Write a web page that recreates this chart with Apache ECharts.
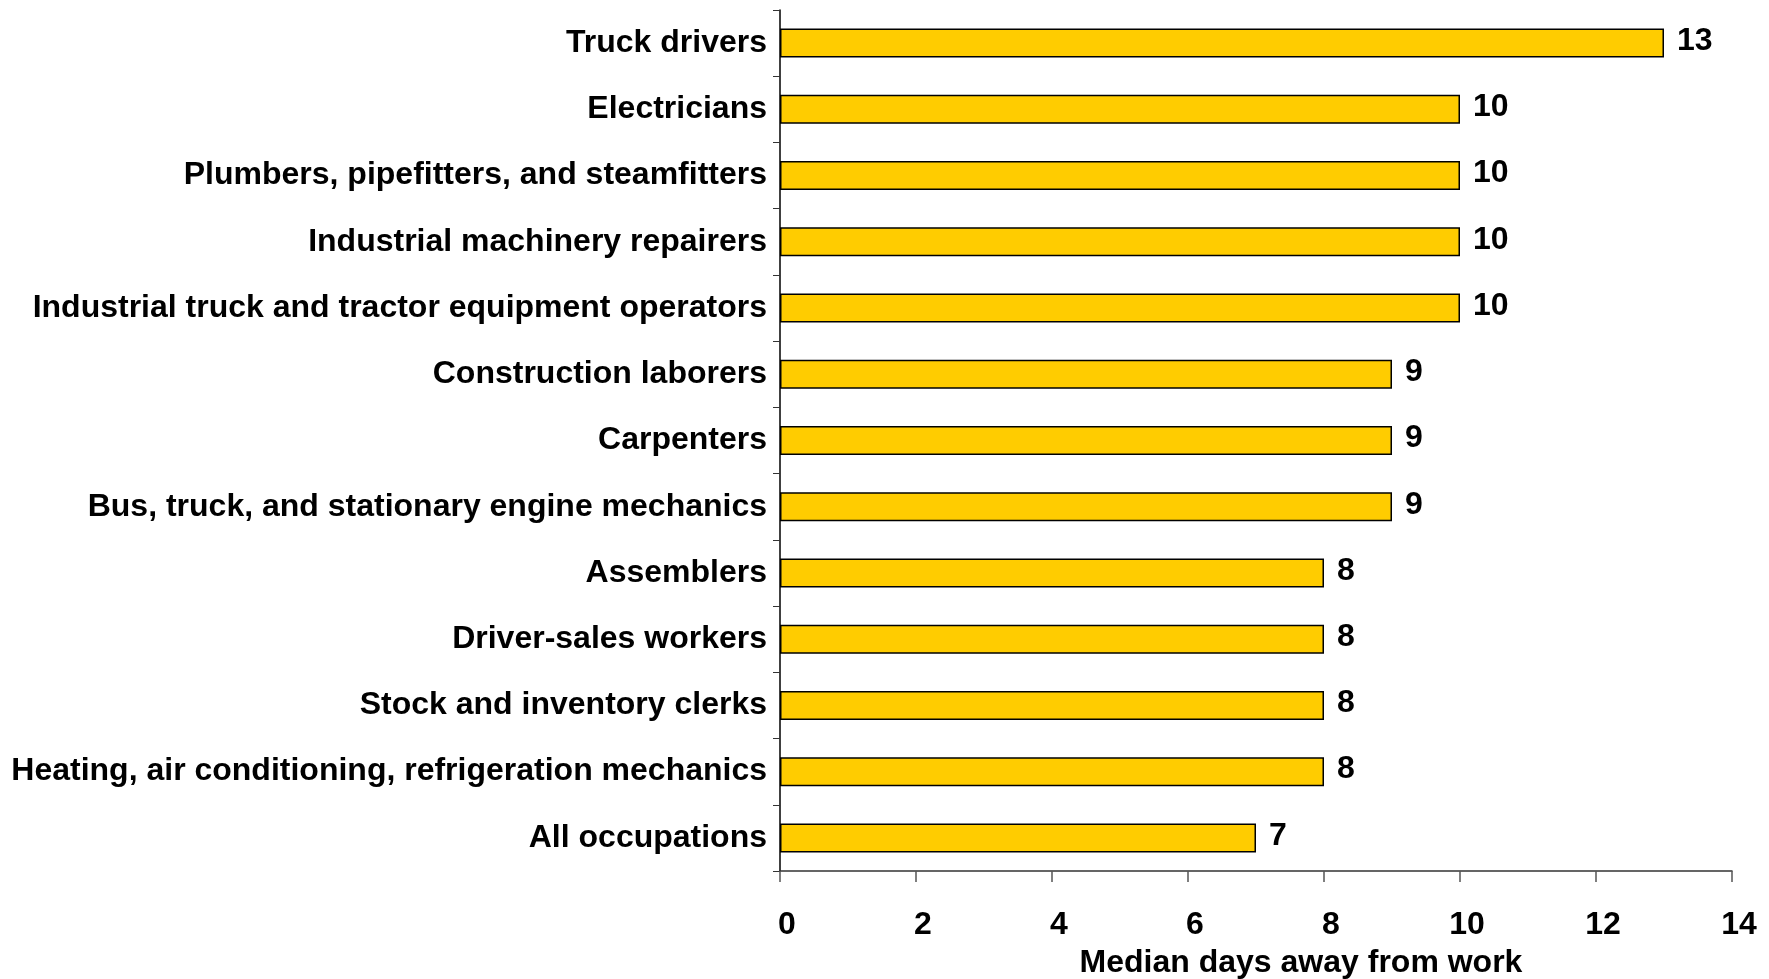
<!DOCTYPE html>
<html>
<head>
<meta charset="utf-8">
<script src="https://cdn.jsdelivr.net/npm/echarts@6/dist/echarts.min.js"></script>
<style>
html,body{margin:0;padding:0;background:#fff;}
#chart{width:1769px;height:979px;}
</style>
</head>
<body>
<div id="chart"></div>
<script>
const categories = [
  "Truck drivers",
  "Electricians",
  "Plumbers, pipefitters, and steamfitters",
  "Industrial machinery repairers",
  "Industrial truck and tractor equipment operators",
  "Construction laborers",
  "Carpenters",
  "Bus, truck, and stationary engine mechanics",
  "Assemblers",
  "Driver-sales workers",
  "Stock and inventory clerks",
  "Heating, air conditioning, refrigeration mechanics",
  "All occupations"
];
const medianDays = [13, 10, 10, 10, 10, 9, 9, 9, 8, 8, 8, 8, 7];
const xTicks = { min: 0, max: 14, interval: 2 };
const xAxisTitle = "Median days away from work";

const FONT = "'Liberation Sans', Arial, sans-serif";
const chart = echarts.init(document.getElementById('chart'), null, {renderer: 'canvas'});
chart.setOption({
  backgroundColor: '#ffffff',
  animation: false,
  grid: { left: 780, right: 37, top: 10, bottom: 108, containLabel: false, outerBoundsMode: 'none' },
  xAxis: {
    type: 'value',
    min: xTicks.min, max: xTicks.max, interval: xTicks.interval,
    name: xAxisTitle,
    nameLocation: 'middle',
    nameGap: 76,
    nameTextStyle: { fontFamily: FONT, fontWeight: 'bold', fontSize: 32, color: '#000', padding: [0, 0, 0, 90] },
    axisLine: { show: true, lineStyle: { color: '#333', width: 1.5 } },
    axisTick: { show: true, length: 11, inside: false, lineStyle: { color: '#555', width: 1.5 } },
    axisLabel: { fontFamily: FONT, fontWeight: 'bold', fontSize: 32, color: '#000', margin: 38, padding: [0, 0, 0, 14] },
    splitLine: { show: false }
  },
  yAxis: {
    type: 'category',
    data: categories,
    inverse: true,
    axisLine: { show: true, lineStyle: { color: '#000', width: 1.5 } },
    axisTick: { show: true, length: 7, lineStyle: { color: '#333', width: 1 } },
    axisLabel: { fontFamily: FONT, fontWeight: 'bold', fontSize: 32, color: '#000', margin: 13 },
    splitLine: { show: false }
  },
  series: [{
    type: 'bar',
    data: medianDays,
    barWidth: 29,
    itemStyle: { color: '#FFCC00', borderColor: '#000', borderWidth: 1.5 },
    label: {
      show: true, position: 'right', distance: 13, offset: [0, -2],
      fontFamily: FONT, fontWeight: 'bold', fontSize: 32, color: '#000'
    }
  }]
});
</script>
</body>
</html>
